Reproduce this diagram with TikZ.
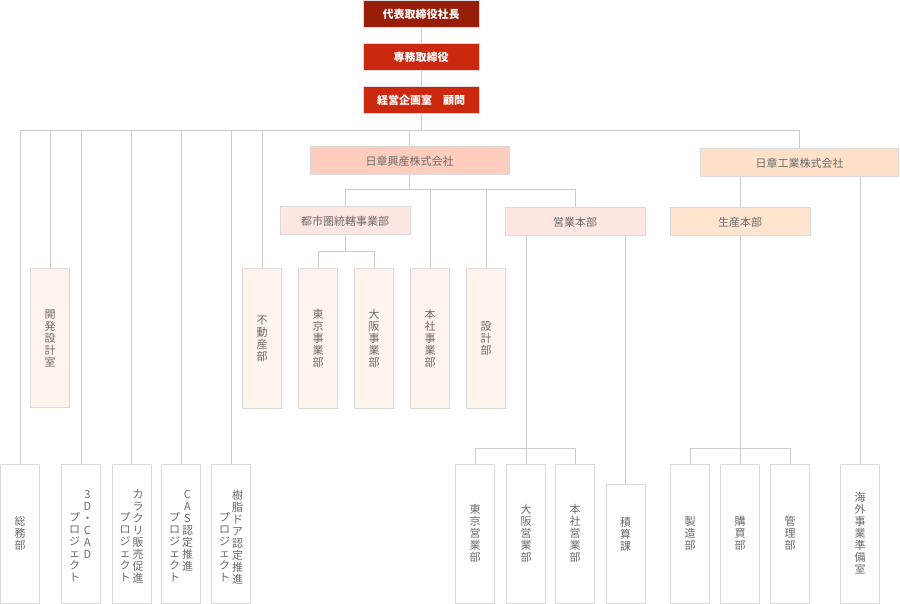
\documentclass[tikz,border=0pt]{standalone}
\usepackage{fontspec}
\newfontfamily\jp{Noto Sans CJK JP}
\definecolor{linegray}{HTML}{CCCCCC}
\definecolor{boxgray}{HTML}{DADADA}
\definecolor{txtgray}{HTML}{6A6A6A}
\definecolor{darkred}{HTML}{981E0A}
\definecolor{midred}{HTML}{CC280E}
\definecolor{kousanfill}{HTML}{FFCDBE}
\definecolor{kogyofill}{HTML}{FFE0C8}
\definecolor{divfill}{HTML}{FFE6E0}
\definecolor{seisanfill}{HTML}{FFE5D0}
\definecolor{vpink}{HTML}{FFF3EE}
\begin{document}
\begin{tikzpicture}[x=1pt,y=-1pt,
  ln/.style={draw=linegray, line width=1pt},
  bx/.style={rectangle, draw=boxgray, line width=1pt, inner sep=0pt,
    font=\jp\fontsize{11}{12}\selectfont, text=txtgray},
  topbox/.style={bx, minimum width=116pt, minimum height=27pt, text=white,
    font=\jp\bfseries\fontsize{11}{12}\selectfont},
  hb/.style={bx, minimum height=28pt},
  vb/.style={bx, minimum width=39pt, minimum height=139pt, align=center},
  vt/.style={inner sep=0pt, font=\jp\fontsize{11}{12}\selectfont, text=txtgray, align=center}]
\useasboundingbox (0,0) rectangle (900,604);
\fill[white] (0,0) rectangle (900,604);

% top chain
\node[topbox, fill=darkred] (pres) at (421,14.5) {代表取締役社長};
\node[topbox, fill=midred] (senmu) at (421,57.5) {専務取締役};
\node[topbox, fill=midred] (keiei) at (421,100.5) {経営企画室　顧問};

% companies and divisions
\node[hb, fill=kousanfill, minimum width=199pt] (kousan) at (409.5,161) {日章興産株式会社};
\node[hb, fill=kogyofill, minimum width=198pt] (kogyo) at (799.5,163) {日章工業株式会社};
\node[hb, fill=divfill, minimum width=130pt] (toshi) at (345,221) {都市圏統轄事業部};
\node[hb, fill=divfill, minimum width=140pt] (eigyo) at (575,222) {営業本部};
\node[hb, fill=seisanfill, minimum width=140pt] (seisan) at (740,222) {生産本部};

% middle vertical pink boxes
\node[vb, fill=vpink] (kaihatsu) at (50,338) {開\\発\\設\\計\\室};
\node[vb, fill=vpink] (fudosan) at (262,338.5) {不\\動\\産\\部};
\node[vb, fill=vpink] (tokyoJ) at (318,338.5) {東\\京\\事\\業\\部};
\node[vb, fill=vpink] (osakaJ) at (374,338.5) {大\\阪\\事\\業\\部};
\node[vb, fill=vpink] (honshaJ) at (430,338.5) {本\\社\\事\\業\\部};
\node[vb, fill=vpink] (sekkei) at (486,338.5) {設\\計\\部};

% bottom white boxes
\node[vb, fill=white] (soumu) at (20,533.5) {総\\務\\部};
\node[vb, fill=white] (cad) at (81,533.5) {};
\node[vt, anchor=north] (cadR) at (87.5,490) {3\\D\\・\\C\\A\\D};
\node[vt, anchor=north] (cadL) at (74.5,512.5) {プ\\ロ\\ジ\\ェ\\ク\\ト};
\node[vb, fill=white] (karakuri) at (131.5,533.5) {};
\node[vt, anchor=north] (karakuriR) at (138,490) {カ\\ラ\\ク\\リ\\販\\売\\促\\進};
\node[vt, anchor=north] (karakuriL) at (125,512.5) {プ\\ロ\\ジ\\ェ\\ク\\ト};
\node[vb, fill=white] (cas) at (181,533.5) {};
\node[vt, anchor=north] (casR) at (187.5,490) {C\\A\\S\\認\\定\\推\\進};
\node[vt, anchor=north] (casL) at (174.5,512.5) {プ\\ロ\\ジ\\ェ\\ク\\ト};
\node[vb, fill=white] (jushi) at (231,533.5) {};
\node[vt, anchor=north] (jushiR) at (237.5,490) {樹\\脂\\ド\\ア\\認\\定\\推\\進};
\node[vt, anchor=north] (jushiL) at (224.5,512.5) {プ\\ロ\\ジ\\ェ\\ク\\ト};

\node[vb, fill=white] (tokyoE) at (475,533.5) {東\\京\\営\\業\\部};
\node[vb, fill=white] (osakaE) at (526,533.5) {大\\阪\\営\\業\\部};
\node[vb, fill=white] (honshaE) at (575,533.5) {本\\社\\営\\業\\部};
\node[vb, fill=white, minimum height=119pt] (sekisan) at (625.5,543.5) {};
\node[vt] (sekisanT) at (625.5,534) {積\\算\\課};
\node[vb, fill=white] (seizo) at (690,533.5) {製\\造\\部};
\node[vb, fill=white] (koubai) at (740,533.5) {購\\買\\部};
\node[vb, fill=white] (kanri) at (790,533.5) {管\\理\\部};
\node[vb, fill=white] (kaigai) at (860,533.5) {海\\外\\事\\業\\準\\備\\室};

% bus coordinates
\coordinate (busL) at (20,131);
\coordinate (busR) at (799.5,131);
\coordinate (bus2) at (345,190);
\coordinate (bus3) at (345,252);
\coordinate (bus4) at (475,448);

% connectors
\draw[ln] (pres.south) -- (senmu.north);
\draw[ln] (senmu.south) -- (keiei.north);
\draw[ln] (keiei.south) -- (keiei.south |- busL);
\draw[ln] (busL) -- (busR) -- (kogyo.north);
\draw[ln] (soumu.north) -- (soumu.north |- busL);
\draw[ln] (kaihatsu.north) -- (kaihatsu.north |- busL);
\draw[ln] (cad.north) -- (cad.north |- busL);
\draw[ln] (karakuri.north) -- (karakuri.north |- busL);
\draw[ln] (cas.north) -- (cas.north |- busL);
\draw[ln] (jushi.north) -- (jushi.north |- busL);
\draw[ln] (fudosan.north) -- (fudosan.north |- busL);
\draw[ln] (kousan.north) -- (kousan.north |- busL);

\draw[ln] (kousan.south) -- (kousan.south |- bus2);
\draw[ln] (toshi.north) -- (bus2) -- (eigyo.north |- bus2) -- (eigyo.north);
\draw[ln] (honshaJ.north) -- (honshaJ.north |- bus2);
\draw[ln] (sekkei.north) -- (sekkei.north |- bus2);

\draw[ln] (toshi.south) -- (bus3);
\draw[ln] (tokyoJ.north) -- (tokyoJ.north |- bus3) -- (osakaJ.north |- bus3) -- (osakaJ.north);

\draw[ln] (osakaE.north) -- (osakaE.north |- eigyo.south);
\draw[ln] (tokyoE.north) -- (bus4) -- (honshaE.north |- bus4) -- (honshaE.north);
\draw[ln] (sekisan.north) -- (sekisan.north |- eigyo.south);

\draw[ln] (seisan.north) -- (seisan.north |- kogyo.south);
\draw[ln] (seisan.south) -- (koubai.north);
\draw[ln] (seizo.north) -- (seizo.north |- bus4) -- (kanri.north |- bus4) -- (kanri.north);
\draw[ln] (kaigai.north) -- (kaigai.north |- kogyo.south);
\end{tikzpicture}
\end{document}
